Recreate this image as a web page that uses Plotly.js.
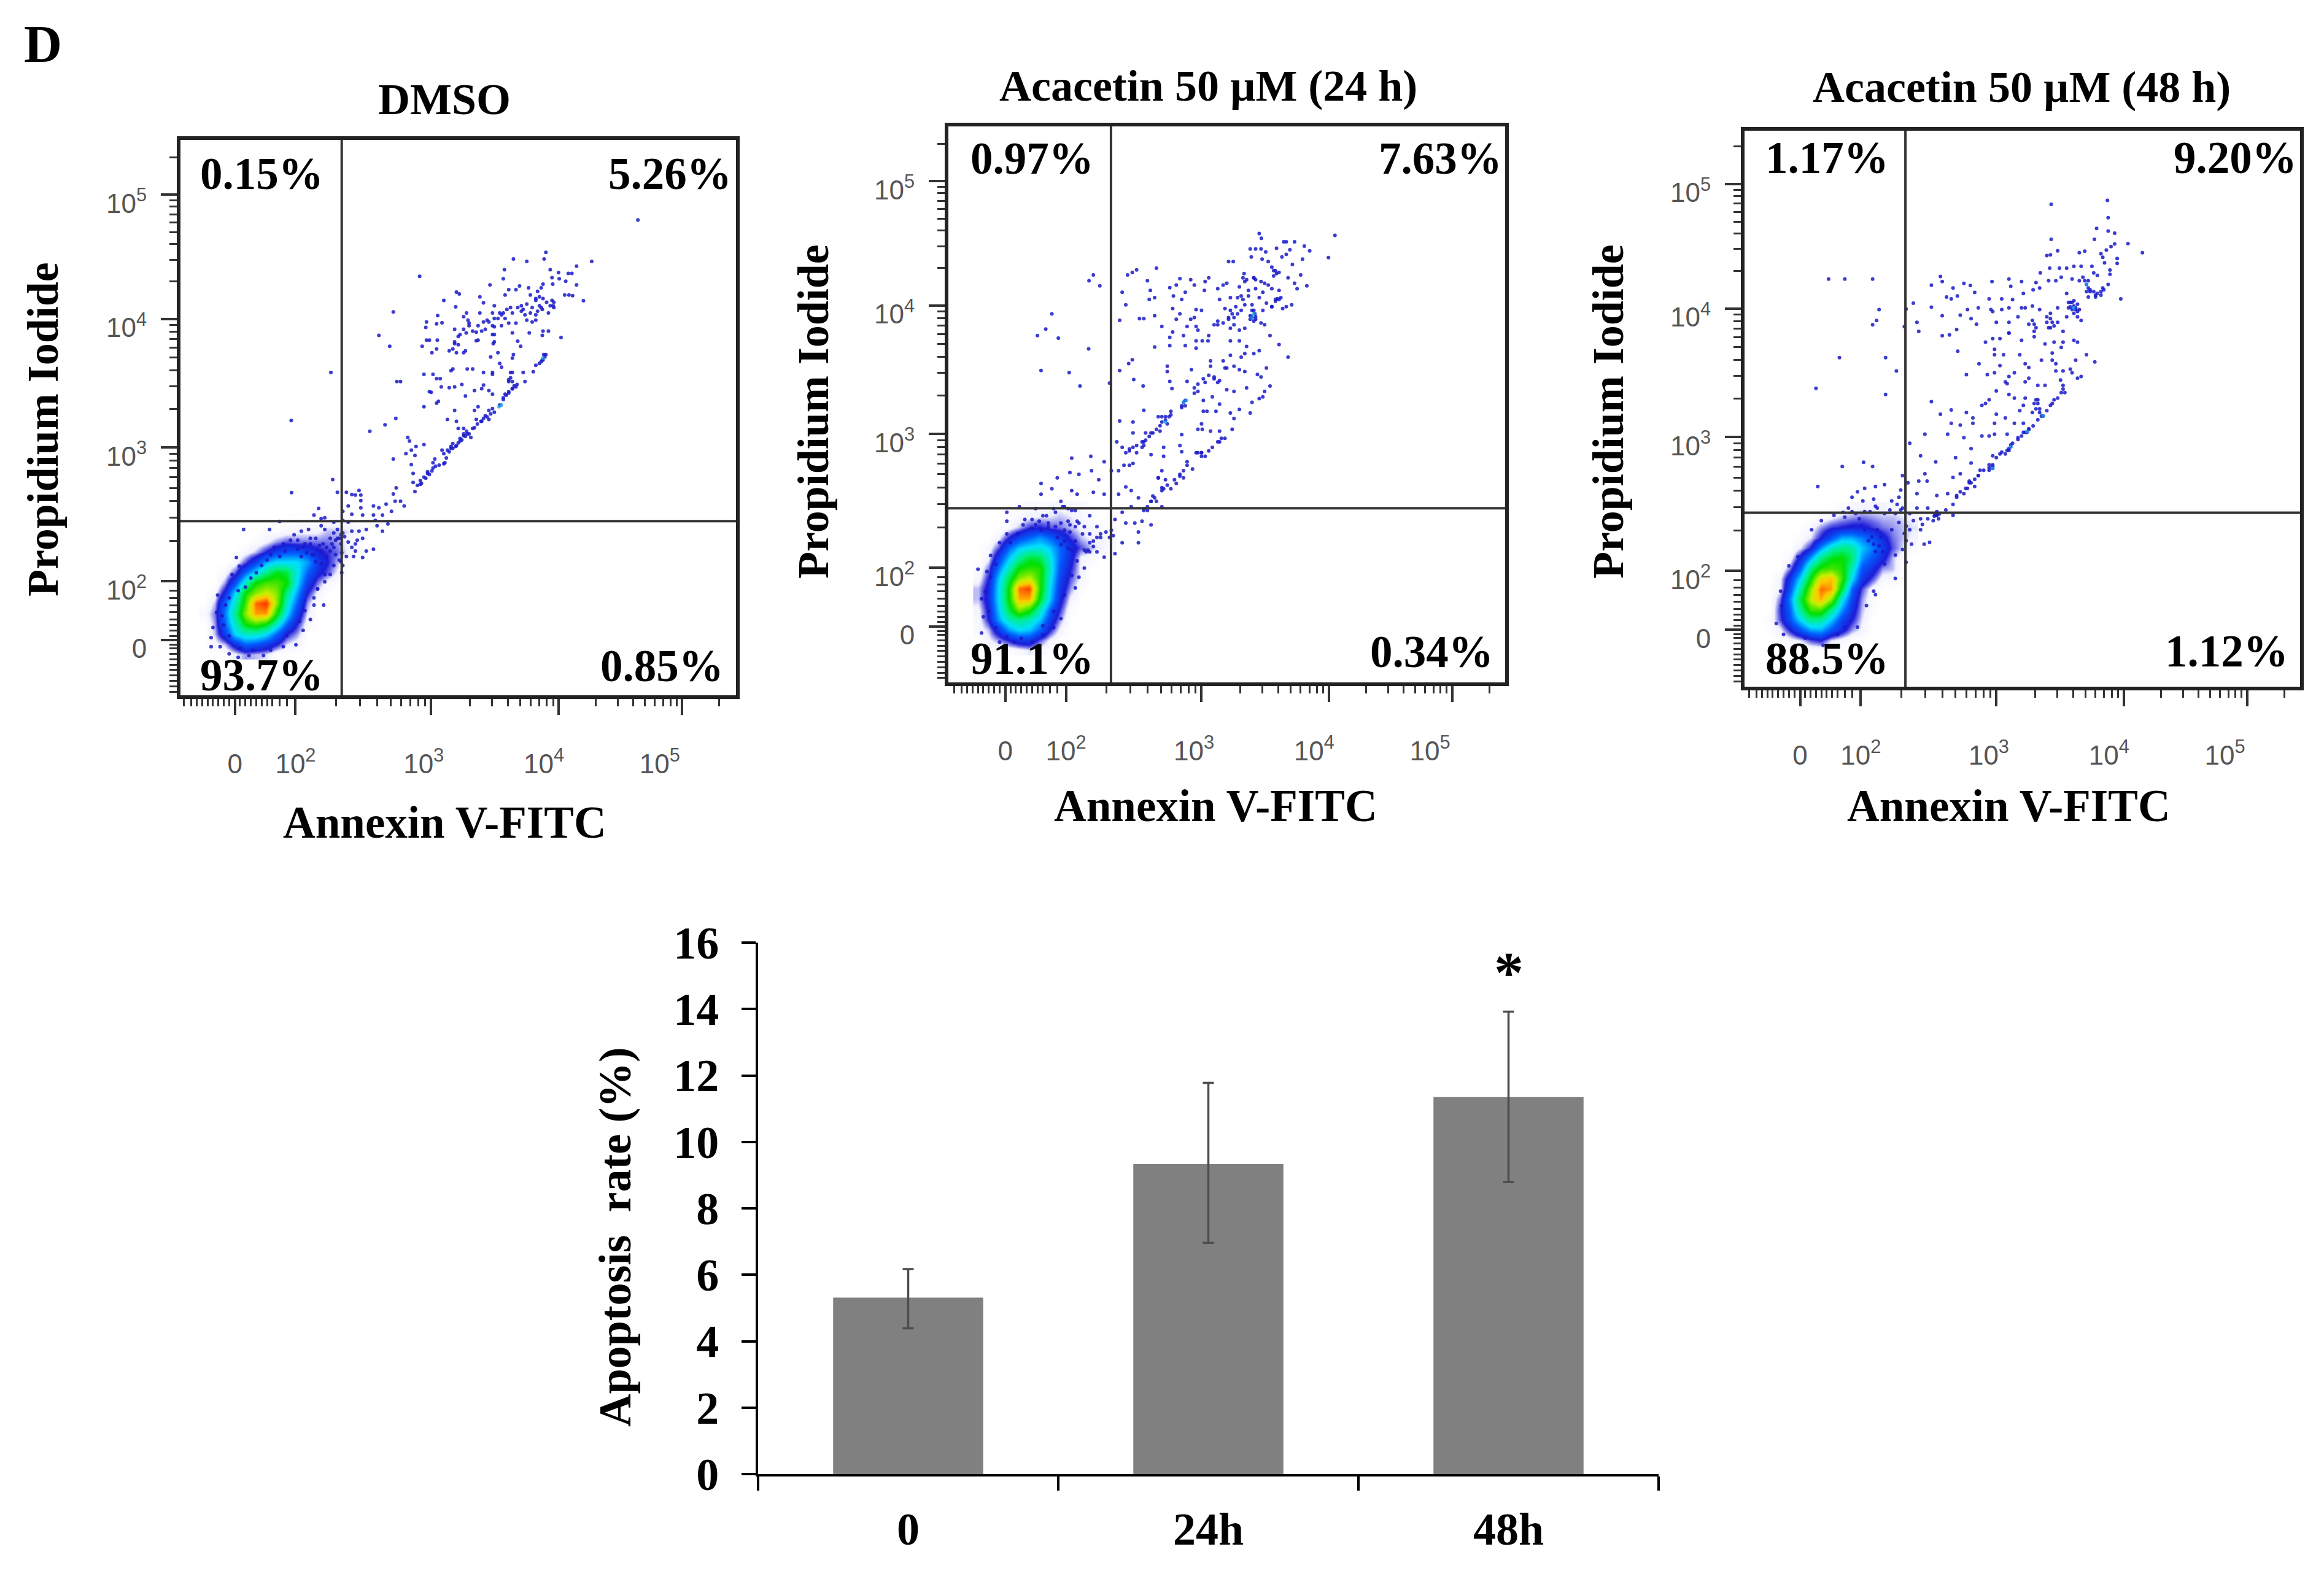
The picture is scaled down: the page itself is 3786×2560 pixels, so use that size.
<!DOCTYPE html>
<html><head><meta charset="utf-8">
<script src="https://cdn.plot.ly/plotly-3.0.1.min.js"></script>
<style>html,body{margin:0;padding:0;background:#fff}</style></head>
<body><div id="plot" style="width:3786px;height:2560px"></div>
<script>
// ---------- bar chart data ----------
const barCategories = ["0", "24h", "48h"];
const barValues = [5.31, 9.33, 11.35];
const barErrorUp = [0.86, 2.45, 2.57];
const barErrorDown = [0.92, 2.37, 2.56];
const barTicks = [0, 2, 4, 6, 8, 10, 12, 14, 16];

// ---------- flow cytometry: values are display channels of the biexponential scale ----------
const flowTitles = ["DMSO", "Acacetin 50 µM (24 h)", "Acacetin 50 µM (48 h)"];
const quadrantX = [462, 459, 458];
const quadrantY = [493, 491, 487];
const pctUL = ["0.15%", "0.97%", "1.17%"];
const pctUR = ["5.26%", "7.63%", "9.20%"];
const pctLL = ["93.7%", "91.1%", "88.5%"];
const pctLR = ["0.85%", "0.34%", "1.12%"];

const xMajor = [166, 334, 710, 1064, 1406];
const nb = "\u00a0";
const xMajorText = ["0", "10<sup>2</sup>", "10<sup>3</sup>"+nb+nb, "10<sup>4</sup>"+nb+nb+nb+nb, "10<sup>5</sup>"+nb+nb+nb+nb+nb+nb];
const yMajorText = ["0", "10<sup>2</sup>", "10<sup>3</sup>", "10<sup>4</sup>", "10<sup>5</sup>"];
const yMajor = [163, 326, 697, 1053, 1398];
const xMinor = [25,45,60,75,90,105,120,135,150,180,195,210,225,240,255,270,290,310,447,513,560,597,627,652,674,693,817,879,923,957,985,1009,1030,1048,1167,1227,1270,1303,1330,1353,1373,1390,1509];
const yMinor = [20,35,50,65,80,95,110,125,140,150,175,190,205,220,240,260,280,300,438,503,549,585,615,640,661,680,804,867,911,946,974,998,1018,1037,1157,1218,1261,1294,1321,1344,1365,1382,1502];

// estimated event density of the main population, rows bottom to top
const density1 = [
[0,0,0,.3,.6,.5,.4,0,0,0,0,0,0,0,0,0],
[0,.2,.5,1.3,2,1.8,1.5,1,.4,.2,0,0,0,0,0,0],
[0,.5,1.5,3,3.5,3.5,3,2,1,.6,0,0,0,0,0,0],
[0,.6,2,3.5,5,5.5,5,3.5,2,1,.2,0,0,0,0,0],
[.2,.7,2.2,4,6,7.6,7.6,5,3,1.5,.4,0,0,0,0,0],
[0,.5,2,3.5,5.5,8,8.5,6,3.5,2,.6,0,0,0,0,0],
[0,.2,1.2,3,5,6,6.6,6,4,2.5,1,.3,0,0,0,0],
[0,0,.6,1.8,3.5,5,5.5,5.5,5,3,1.5,.7,.2,0,0,0],
[0,0,.2,.8,2,3,4,4.8,4.5,3.2,2,1.2,.8,.3,0,0],
[0,0,0,.2,.8,1.5,2.5,3,3,3,2.5,1.5,1,.5,0,0],
[0,0,0,0,.2,.5,1,1.5,1.8,1.8,1.6,1.1,.9,.7,.3,.1],
[0,0,0,0,0,.1,.3,.6,.8,.7,.7,.7,.7,.6,.2,.1],
[0,0,0,0,0,0,.1,.1,.2,.3,.3,.3,.5,.5,.4,.1],
[0,0,0,0,0,0,0,0,0,.1,.1,.1,.2,.2,.1,0],
[0,0,0,0,0,0,0,0,0,0,0,0,0,0,0,0]];
const density2 = [
[0,0,.1,.1,.2,.4,.2,0,0,0,0,0,0,0],
[0,.3,.6,1,1.4,1.4,.8,.3,0,0,0,0,0,0],
[.2,.5,1.4,2.5,3,2.8,2,1,.3,0,0,0,0,0],
[.2,1,2.5,3.6,4,3.6,2.8,1.5,.6,0,0,0,0,0],
[.3,1.1,2.8,4.5,6,5.2,3.6,2,.9,.1,0,0,0,0],
[.5,1.3,3,5,7.5,7.5,4.8,2.8,1.2,.3,0,0,0,0],
[.5,1.2,3,5,8,8.3,5.2,3,1.4,.6,.1,0,0,0],
[.2,1,2.8,4.5,6,6.5,5.2,3.2,1.6,.8,.3,0,0,0],
[.1,.7,2.2,3.6,5,5.3,5.2,3.4,1.8,1,.3,0,0,0],
[0,.3,1.5,2.8,3.8,4.6,4.4,3.2,2,1.2,.3,.2,0,0],
[0,.2,.8,2,2.8,3.1,3.2,2.8,2,1.3,.8,.5,.3,.1],
[0,0,.3,1,1.6,2,2.4,2,1.5,.9,.5,.3,.3,.2],
[0,0,0,.2,.5,.9,1,.8,.7,.5,.3,.2,.1,.1],
[0,0,0,.1,.2,.3,.4,.4,.5,.4,.2,.1,0,.1],
[0,0,0,0,.1,.2,.1,.2,.3,.2,.2,0,0,0]];
const density3 = [
[0,0,0,0,0,0,0,0,0,0,0,0,0,0,0],
[0,0,.2,.4,.8,1,.4,.2,0,0,0,0,0,0,0],
[0,.3,1,1.8,2.5,2.6,1.8,1.2,.6,.3,0,0,0,0,0],
[.1,.8,1.8,3,4,3.8,2.8,1.6,1,.4,0,0,0,0,0],
[0,.9,2,4,5.4,5.5,4,2.4,1.3,.5,.1,0,0,0,0],
[0,.7,2.3,4.5,6.5,7.5,6,3.2,1.6,.6,.1,0,0,0,0],
[0,.3,1.8,3.8,6,8,7.6,4.6,2,.8,.2,0,0,0,0],
[0,.3,1.4,3,5,7,7.4,5.4,3,1.4,.8,.2,.2,0,0],
[0,0,.7,2,4,5.2,5.5,5.2,3.6,1.8,1.3,.6,.5,0,0],
[0,0,.2,1.2,2.5,4,4.8,5,4.2,2.4,1.8,1.2,.5,.1,0],
[0,0,0,.4,1,2.4,3.5,4,3.8,2.8,2.2,1.5,.8,.4,.1],
[0,0,0,.1,.4,1,1.8,2.6,2.6,2.2,1.8,1.2,.7,.5,.3],
[0,0,0,0,.2,.6,.9,1,1.1,1.1,.9,.7,.6,.5,.4],
[0,0,0,0,0,.1,.3,.5,.6,.7,.6,.5,.5,.4,.3],
[0,0,0,0,0,0,0,.1,.2,.3,.3,.3,.2,.2,.1]];
const densityOriginX = [82, 91, 82];
const densityOriginY = [123, 97, 105];
const densityStep = 28.4;

// single events: [Annexin channel, PI channel]
const events1 = [[1283,1328],[1155,1213],[1113,1200],[1028,1238],[1023,1220],[975,1213],[938,1220],[913,1190],[910,1165],[678,1172],
[1040,1190],[1063,1182],[1090,1180],[1100,1180],[1045,1168],[1065,1165],[1083,1158],[1113,1148],[1047,1150],[1020,1150],[1015,1140],[1005,1130],[980,1140],[955,1145],[945,1135],[925,1135],[915,1120],[985,1120],[1000,1110],[1050,1100],[1080,1120],[1092,1120],[1102,1118],[1132,1104],[1040,1090],[1048,1090],[1010,1090],[1018,1080],[1000,1065],[985,1070],[965,1080],[960,1090],[930,1085],[910,1070],[900,1070],[885,1090],[855,1098],[845,1115],[873,1148],[780,1128],[788,1123],[745,1105],[778,1087],[808,1070],[800,1060],[845,1070],[880,1070],[895,1055],[915,1055],[925,1042],[945,1042],[975,1050],[990,1045],[1035,1070],[1020,1020],[1035,1020],[1018,1008],[1070,1002],[982,1015],[935,1015],[905,1035],[885,1032],[865,1050],[860,1025],[850,1020],[835,1017],[815,1042],[812,1050],[807,1015],[790,1010],[775,1025],[728,1063],[740,1043],[725,1040],[697,1045],[695,1030],[697,995],[705,995],[685,978],[727,995],[725,970],[712,960],[775,985],[785,982],[770,970],[780,960],[760,965],[805,965],[800,960],[835,993],[840,995],[880,1010],[885,990],[882,985],[895,960],[875,948],[950,992],[958,978],[938,955],[935,945],[1028,955],[1020,940],[1015,935],[1000,925],[993,907],[965,905],[935,905],[900,930],[905,920],[880,900],[855,905],[825,915],[810,915],[770,915],[765,910],[715,900],[690,900],[735,888],[725,888],[738,865],[705,852],[710,850],[760,863],[775,865],[795,872],[805,840],[830,855],[855,870],[850,860],[870,855],[880,845],[925,885],[935,880],[970,880],[945,865],[935,860],[925,848],[915,845],[910,830],[900,815],[880,805],[870,800],[860,785],[870,775],[850,770],[835,775],[830,800],[840,810],[825,750],[810,735],[800,730],[790,715],[780,702],[765,695],[755,690],[740,690],[745,680],[748,655],[720,665],[715,655],[700,630],[690,615],[680,595],[665,575],[660,600],[660,625],[690,705],[668,700],[655,690],[665,675],[640,680],[655,650],[605,665],[645,725],[650,715],[690,810],[730,825],[775,800],[725,820],[755,775],[780,770],[785,750],[800,750],[615,880],[625,880],[605,1073],[565,1008],[595,978],[432,905],[322,772],[323,572],[437,608],[612,778],[582,760],[540,742],
[450,573],[475,573],[490,567],[510,578],[515,565],[500,565],[613,585],[605,568],[515,550],[480,535],[515,530],[550,535],[565,530],[585,540],[610,548],[625,548],[635,535],[600,520],[575,510],[550,510],[520,510],[490,512],[465,520],[398,528],[385,510],[405,500],[415,502],[440,490],[465,495],[480,490],[555,495],[560,480],[590,485],[575,465],[530,470],[510,465],[490,465],[520,445],[505,440],[550,415],[530,410],[500,410],[495,395],[520,392],[465,460],[460,430],[462,405],[460,380],[462,350],[450,445],[435,430],[410,430],[400,425],[420,395],[405,375],[430,345],[415,325],[395,305],[385,280],[370,470],[350,465],[330,455],[300,430],[275,420],[265,400],[290,492],[190,470],[262,470],[170,392],[178,368],[158,345],[118,288],[140,260],[115,240],[130,230],[105,198],[100,170],[100,145],[125,145],[150,125],[175,115],[205,120],[245,120],[300,145],[335,150],[355,190],[385,260],[412,260],[375,220],
[455,385],[445,400],[430,410],[440,370],[465,370],[475,395],[390,380],[380,400],[395,415],[360,430],[375,445],[340,415],[350,395],[320,440],[305,410],[290,395],[255,385],[240,370],[225,350],[210,335],[195,310],[175,300],[150,280],[135,205],[150,175],[180,140],[215,135],[265,135],[310,175],[345,215],[360,245],[395,305],[415,345],
[672,592],[683,598],[695,612],[705,622],[712,632],[722,645],[732,648],[745,652],[752,668],[760,685],[770,695],[778,700],[785,710],[795,718],[805,728],[815,735],[820,725],[808,742],[830,752],[838,762],[848,770],[855,778],[865,782],[875,790],[885,795],[910,835],[918,842],[925,852],[935,860],[940,868],[948,872],[930,890],[925,880],[1018,940],[1025,948],[1010,930],[1022,955],[770,708],[790,722],[800,735],[765,700],[715,640],[700,625],[680,605],
[1000,1105],[1015,1085],[1020,1110],[1010,1115],[1030,1100],[1045,1105],[1050,1085],[1005,1075],[990,1085],[975,1095],[960,1075],[950,1085],[935,1070],[920,1080],[905,1065],[885,1055],[870,1045],[855,1045],[840,1035],[825,1020],[885,1010],[880,1035],[815,1035],[800,1025],[785,1005],[775,990],[880,905],[930,905],[970,1065],[1000,1050],
[405,480],[415,470],[440,460],[450,470],[430,445],[445,440],[455,445],[460,455],[470,450],[480,435],[490,420],[500,430],[440,420],[420,420],[405,410],[390,445],[375,430],[385,400],[365,405],[355,420],[340,440]];
const events2 = [[1080,1248],[870,1253],[876,1240],[1062,1186],[938,1230],[945,1230],[968,1230],[995,1218],[1010,1205],[845,1210],[860,1210],[875,1210],[888,1202],[918,1212],[955,1208],[945,1195],[933,1188],[990,1182],[848,1188],[878,1182],[895,1175],[785,1175],[798,1175],[962,1167],[905,1160],[915,1150],[925,1145],[910,1135],[985,1138],[828,1142],[825,1130],[855,1130],[860,1125],[875,1120],[885,1115],[950,1130],[975,1100],[1002,1108],[968,1115],[895,1110],[905,1100],[925,1095],[925,1070],[915,1070],[905,1050],[945,1050],[960,1055],[935,1045],[850,1055],[855,1040],[860,1015],[850,1020],[845,1025],[875,1005],[885,1000],[830,1120],[815,1105],[840,1095],[820,1080],[830,1055],[805,1050],[790,1040],[775,1045],[760,1070],[755,1100],[770,1110],[780,1115],[730,1130],[720,1120],[718,1095],[690,1110],[680,1125],[650,1128],[640,1110],[622,1103],[665,1090],[655,1070],[632,1080],[630,1045],[650,1030],[640,1015],[695,1042],[710,1040],[690,1020],[680,1015],[745,1000],[755,1010],[785,1015],[800,1000],[815,985],[830,990],[790,990],[695,995],[670,995],[660,970],[700,985],[730,970],[728,955],[712,955],[695,955],[622,965],[622,942],[580,938],[665,942],[695,935],[630,980],[600,995],[580,1025],[550,1017],[538,1017],[483,1012],[500,1055],[568,1095],[580,1075],[565,1070],[490,1090],[560,1122],[585,1157],[530,1152],[518,1145],[505,1138],[428,1108],[410,1138],[398,1122],[295,1030],[278,988],[255,970],[313,963],[397,933],[265,873],[343,867],[373,830],[455,838],[483,873],[508,892],[518,903],[522,848],[548,830],[615,885],[615,870],[682,875],[622,843],[628,823],[670,843],
[790,955],[815,955],[835,940],[870,928],[950,910],[925,945],[900,970],[830,920],[820,910],[790,915],[770,900],[735,900],[735,885],[780,880],[800,885],[815,875],[830,870],[855,920],[890,880],[865,862],[875,855],[900,830],[885,815],[880,800],[870,795],[850,785],[845,755],[815,765],[790,755],[800,740],[795,710],[760,780],[740,800],[715,790],[700,815],[690,810],[720,840],[745,855],[760,845],[780,820],[800,815],[835,825],[660,785],[665,775],[655,770],[715,760],[725,760],[750,760],[710,725],[700,710],[712,710],[735,705],[760,705],[775,685],[760,675],[740,660],[720,635],[710,645],[695,645],[670,620],[670,610],[685,600],[655,648],[650,665],[655,695],[625,760],[610,745],[590,745],[600,730],[615,725],[595,705],[575,700],[555,700],[550,675],[545,660],[520,700],[520,730],[483,733],[550,763],[510,655],[530,645],[500,645],[475,675],[490,660],[605,660],[605,635],[570,640],[520,615],[510,610],[495,610],[480,595],[460,595],[440,620],[403,635],[350,630],[600,595],[590,575],[610,570],[650,585],[660,575],[640,560],[625,545],[600,540],[580,520],[570,510],[550,490],[535,520],[500,550],[515,540],[480,530],[440,530],[425,570],[405,595],[370,585],[345,590],[310,575],[265,560],[265,530],[295,545],[350,540],[365,530],[410,535],[320,510],[330,495],[360,485],[305,480],[250,490],[205,495],[170,480],[170,455],[220,460],[260,455],[320,450],[370,450],[400,470],[420,440],[470,460],[490,480],[515,495],[550,485],[560,485],[600,495],[500,450],[525,450],[545,455],[570,445],[460,430],[465,415],[430,410],[490,395],[535,395],[535,425],[470,365],[440,355],[410,385],[390,370],[385,325],[370,300],[360,270],[320,185],[300,160],[270,140],[240,120],[190,120],[150,120],[100,145],[105,190],[100,240],[90,322],[115,315],[125,360],[150,395],[170,420],
[455,410],[445,425],[420,410],[400,395],[380,420],[360,440],[340,455],[345,425],[330,400],[310,410],[285,440],[270,470],[240,460],[215,445],[200,420],[180,395],[140,335],[125,300],[110,260],[120,205],[140,160],[170,135],[210,130],[270,165],[300,205],[330,250],[350,305],[365,345],[420,370],
[520,660],[510,650],[530,665],[545,675],[555,680],[550,665],[565,690],[570,700],[585,710],[595,720],[610,735],[620,745],[600,745],[625,750],[655,775],[665,790],[690,825],[700,835],[715,850],[730,860],[745,850],[755,840],[775,880],[590,575],[600,548],[615,555],[635,570],[650,580],[660,595],[575,525],[585,510],[560,495],[570,510],[605,545],[700,645],[710,635],[730,650],[755,675],[765,685],[710,645],
[850,1040],[858,1030],[848,1022],[860,1022],[845,1015],[855,1010],[905,1050],[915,1065],[920,1072],[930,1075],[910,1150],[918,1142],[855,1130],[835,1125],[820,1040],[810,1030],[800,1020],[795,1030],[785,1020],[770,1005],[755,1000],[880,1040],[890,1060],[870,1075],[880,1090],[860,1100],[840,1080],[825,1070],[810,1075],[790,1075],
[340,490],[350,485],[325,495],[300,490],[280,470],[250,445],[240,435],[265,430],[285,450],[305,440],[330,430],[345,445],[365,455],[385,440],[400,420],[395,375],[385,375],[400,370],[430,420],[410,400],[350,375],[360,400],[340,380],[320,390]];
const events3 = [[1018,1353],[862,1342],[1020,1305],[988,1275],[1020,1268],[1038,1262],[862,1245],[982,1245],[1038,1232],[1075,1233],[1115,1208],[1028,1225],[1015,1215],[1000,1205],[1005,1195],[880,1213],[850,1200],[860,1202],[955,1212],[940,1208],[1045,1192],[1045,1178],[1025,1160],[1025,1148],[1010,1180],[975,1170],[945,1170],[925,1170],[905,1165],[885,1165],[858,1165],[832,1152],[980,1152],[990,1145],[1020,1120],[1008,1105],[960,1120],[950,1140],[940,1130],[920,1135],[890,1140],[875,1130],[855,1130],[820,1125],[830,1110],[812,1105],[785,1095],[745,1135],[780,1128],[750,1115],[698,1128],[755,1078],[725,1080],[690,1080],[650,1098],[638,1117],[620,1123],[590,1110],[602,1088],[585,1080],[572,1085],[555,1142],[560,1128],[530,1118],[480,1068],[460,1052],[530,1057],[560,1033],[630,1050],[660,1055],[695,1050],[700,1045],[725,1050],[745,1055],[780,1055],[790,1055],[810,1060],[830,1050],[860,1040],[880,1055],[910,1070],[930,1055],[920,1050],[940,1050],[925,1040],[965,1085],[985,1085],[1000,1090],[1055,1080],[960,1100],[905,1095],[850,1015],[865,1015],[860,1000],[880,1015],[895,990],[905,1030],[935,1030],[945,1020],[810,1020],[800,1010],[770,1030],[745,1015],[745,985],[710,1015],[655,1010],[640,1025],[610,1035],[600,995],[580,980],[560,978],[490,1015],[495,990],[455,1003],[385,1050],[378,1020],[367,1008],[367,1135],[290,1135],[245,1135],[275,917],[403,917],[433,880],[403,815],[210,832],[530,795],[603,935],[627,870],[662,900],[680,960],[700,970],[720,970],[745,985],[780,965],[815,990],[815,975],[845,955],[870,960],[895,960],[890,945],[925,965],[935,960],[960,925],[983,905],[705,940],[705,925],[730,925],[775,925],[865,930],[835,910],[865,910],[875,900],[930,910],[915,885],[920,875],[945,865],[935,860],[790,900],[800,890],[760,875],[745,865],[740,845],[720,895],[705,875],[685,870],[800,860],[790,850],[825,840],[845,840],[875,880],[895,880],[888,855],[895,840],[900,820],[870,800],[860,785],[840,755],[825,790],[830,775],[820,800],[810,765],[790,805],[785,785],[760,805],[745,815],[735,850],[775,770],[690,800],[680,790],[670,785],[710,825],[710,760],[705,735],[735,750],[760,735],[785,735],[795,710],[780,700],[770,690],[750,675],[740,660],[720,650],[700,645],[690,620],[665,605],[700,610],[640,665],[670,700],[690,700],[705,705],[740,705],[645,735],[645,750],[627,765],[585,772],[555,760],[610,730],[585,735],[575,705],[620,695],[512,705],[470,680],[500,645],[542,628],[597,640],[640,625],[610,595],[590,585],[635,575],[660,590],[650,560],[620,540],[600,530],[590,510],[570,495],[545,480],[545,535],[575,540],[520,500],[490,540],[495,575],[512,595],[518,575],[465,570],[450,590],[445,550],[400,565],[375,560],[345,555],[325,545],[310,530],[340,520],[370,525],[380,500],[420,520],[440,530],[300,500],[285,488],[320,485],[360,490],[400,485],[430,485],[445,495],[470,485],[490,500],[342,627],[367,615],[283,615],[215,560],[590,480],[520,470],[500,440],[480,465],[460,450],[440,460],[420,440],[460,410],[475,400],[510,400],[525,405],[450,385],[460,350],[430,370],[430,305],[400,345],[370,270],[375,260],[350,230],[325,170],[290,170],[270,150],[230,120],[180,140],[120,150],[100,180],[115,230],[112,270],[135,340],[160,365],[198,440],[225,465],[260,480],
[925,1060],[930,1050],[915,1058],[935,1065],[965,1110],[970,1100],[750,670],[745,660],[790,710],[800,718],[700,615],[690,605],[640,570],[630,555],[545,480],[538,478],[552,484],[920,1070],[985,1090],[1000,1100],
[600,535],[610,545],[625,555],[635,570],[650,580],[660,590],[675,605],[690,612],[700,620],[710,640],[725,655],[735,650],[745,665],[755,680],[770,695],[785,710],[800,720],[812,728],[825,745],[835,755],[850,770],[865,790],[880,805],[890,820],[895,830],[815,790],[825,800],[820,775],[830,765],
[915,1070],[925,1075],[935,1045],[910,1055],[955,1130],[965,1130],[970,1105],[980,1100],[990,1095],[1005,1110],[850,1030],[860,1025],[870,1005],[855,1000],[820,1000],[815,1010],
[380,440],[390,420],[370,400],[385,395],[395,380],[375,380],[365,420],[355,410],[345,440],[330,470],[310,490],[290,475],[345,490],[375,505],[415,495],[435,510],[450,500],[540,480],[550,470],[535,465],[545,490],[500,470],[505,455],[470,440],[455,430]];
const flashEvents = [[[905,815],[898,810],[1020,945]],[[850,1020],[855,1030],[660,785],[668,790],[610,730]],[[925,1055],[960,1120],[750,670],[795,712],[840,755],[700,610]]];

// ---------- layout geometry ----------
const W = 3786, H = 2560;
const frames = [
  {l:294, r:1199, t:228, b:1133, xr:[15,1555], yr:[10,1550]},
  {l:1545, r:2452, t:206, b:1112, xr:[8,1552], yr:[8,1550]},
  {l:2842, r:3747, t:213, b:1119, xr:[12,1552], yr:[5,1546]}
];
const serif = "'Liberation Serif','Times New Roman',serif";
const sans = "'Liberation Sans',Arial,sans-serif";
const jet = [[0,'#ffffff'],[0.04,'#f2f2ff'],[0.08,'#6a6ae8'],[0.11,'#1c1cd8'],[0.22,'#0060ff'],[0.33,'#00e0ff'],[0.45,'#00f080'],[0.55,'#00e000'],[0.72,'#c8f000'],[0.81,'#ffc800'],[0.91,'#ff5000'],[1,'#e02000']];

const densities = [density1, density2, density3];
const eventSets = [events1, events2, events3];
const traces = [], annotations = [], shapes = [];
const layout = {
  width: W, height: H, margin: {l:0,r:0,t:0,b:0}, paper_bgcolor:'#fff', plot_bgcolor:'#fff',
  showlegend:false, annotations, shapes, bargap:0.5
};
const text = (s, x, y, xref, yref, size, extra) => annotations.push(Object.assign({
  text:s, x, y, xref, yref, showarrow:false, borderpad:0, xanchor:'center', yanchor:'middle',
  font:{family:serif, size, color:'#000', weight:'bold'}
}, extra||{}));
const titleCentres = [[724,162],[1968,140],[3293,142]];
const xlabCentres = [[724,1340],[1980,1313],[3272,1313]];
const ylabCentres = [[70,700],[1325,671],[2620,671]];

frames.forEach((f, i) => {
  const n = i === 0 ? '' : String(i+1);
  const xa = 'x'+n, ya = 'y'+n;
  traces.push({type:'heatmap', xaxis:xa, yaxis:ya, z:densities[i], x0:densityOriginX[i], dx:densityStep,
    y0:densityOriginY[i], dy:densityStep, zmin:0, zmax:9, zsmooth:'best', colorscale:jet, showscale:false, hoverinfo:'skip'});
  traces.push({type:'scatter', mode:'markers', xaxis:xa, yaxis:ya,
    x:eventSets[i].map(p=>p[0]), y:eventSets[i].map(p=>p[1]),
    marker:{size:6, color:'#1a1ac8', opacity:0.85, line:{width:0}}});
  traces.push({type:'scatter', mode:'markers', xaxis:xa, yaxis:ya,
    x:flashEvents[i].map(p=>p[0]), y:flashEvents[i].map(p=>p[1]),
    marker:{size:6, color:'#18a0f0', opacity:0.75, line:{width:0}}});
  const axisBase = {
    showgrid:false, zeroline:false, showline:true, mirror:true, linecolor:'#222', linewidth:6,
    ticks:'outside', ticklen:26, tickwidth:4, tickcolor:'#333', tickmode:'array',
    tickfont:{family:sans, size:44, color:'#555'}
  };
  layout['xaxis'+n] = Object.assign({}, axisBase, {
    domain:[f.l/W, f.r/W], range:f.xr, anchor:ya, tickvals:xMajor, ticktext:xMajorText, ticklabelstandoff:42,
    minor:{tickmode:'array', tickvals:xMinor, ticks:'outside', ticklen:12, tickwidth:3, tickcolor:'#333'}
  });
  layout['yaxis'+n] = Object.assign({}, axisBase, {
    domain:[1-f.b/H, 1-f.t/H], range:f.yr, anchor:xa, tickvals:yMajor, ticktext:yMajorText, ticklabelstandoff:14, ticklabelshift:14,
    minor:{tickmode:'array', tickvals:yMinor, ticks:'outside', ticklen:12, tickwidth:3, tickcolor:'#333'}
  });
  shapes.push({type:'line', xref:xa, yref:ya, x0:quadrantX[i], x1:quadrantX[i], y0:f.yr[0], y1:f.yr[1], line:{color:'#333', width:4}, layer:'above'});
  shapes.push({type:'line', xref:xa, yref:ya, x0:f.xr[0], x1:f.xr[1], y0:quadrantY[i], y1:quadrantY[i], line:{color:'#333', width:4}, layer:'above'});
  const yTop = [1455,1460,1470][i], yLL = [65,73,82][i], yLR=[90,93,102][i];
  text(pctUL[i], 68, yTop, xa, ya, 73, {xanchor:'left'});
  text(pctUR[i], 1545, yTop, xa, ya, 73, {xanchor:'right'});
  text(pctLL[i], 68, yLL, xa, ya, 73, {xanchor:'left'});
  text(pctLR[i], 1522, yLR, xa, ya, 73, {xanchor:'right'});
  text(flowTitles[i], titleCentres[i][0]/W, 1-titleCentres[i][1]/H, 'paper','paper', 72);
  text('Annexin V-FITC', xlabCentres[i][0]/W, 1-xlabCentres[i][1]/H, 'paper','paper', 73);
  text('Propidium Iodide', ylabCentres[i][0]/W, 1-ylabCentres[i][1]/H, 'paper','paper', 72, {textangle:-90});
});

// ---------- bar chart ----------
traces.push({type:'bar', xaxis:'x4', yaxis:'y4', x:barCategories, y:barValues, width:0.5,
  marker:{color:'#808080', line:{width:0}},
  error_y:{type:'data', symmetric:false, array:barErrorUp, arrayminus:barErrorDown, color:'#4d4d4d', thickness:3.5, width:9}});
layout.xaxis4 = {domain:[1235/W, 2702/W], anchor:'y4', type:'category', categoryorder:'array', categoryarray:barCategories,
  showgrid:false, zeroline:false, showline:true, linecolor:'#000', linewidth:4,
  ticks:'outside', ticklen:23, tickwidth:4, tickcolor:'#000', tickson:'boundaries', ticklabelstandoff:22,
  tickfont:{family:serif, size:74, color:'#000', weight:'bold'}};
layout.yaxis4 = {domain:[1-2402/H, 1-1536/H], anchor:'x4', range:[0,16], tickmode:'array', tickvals:barTicks,
  showgrid:false, zeroline:false, showline:true, linecolor:'#000', linewidth:4,
  ticks:'outside', ticklen:23, tickwidth:4, tickcolor:'#000', ticklabelstandoff:22,
  tickfont:{family:serif, size:74, color:'#000', weight:'bold'}};
text('Apoptosis\u00a0\u00a0rate (%)', 1002/W, 1-2016/H, 'paper','paper', 74, {textangle:-90});
text('*', '48h', 15.1, 'x4','y4', 96);
text('D', 70/W, 1-72/H, 'paper','paper', 86);

Plotly.newPlot('plot', traces, layout, {displayModeBar:false, staticPlot:true});
</script></body></html>
